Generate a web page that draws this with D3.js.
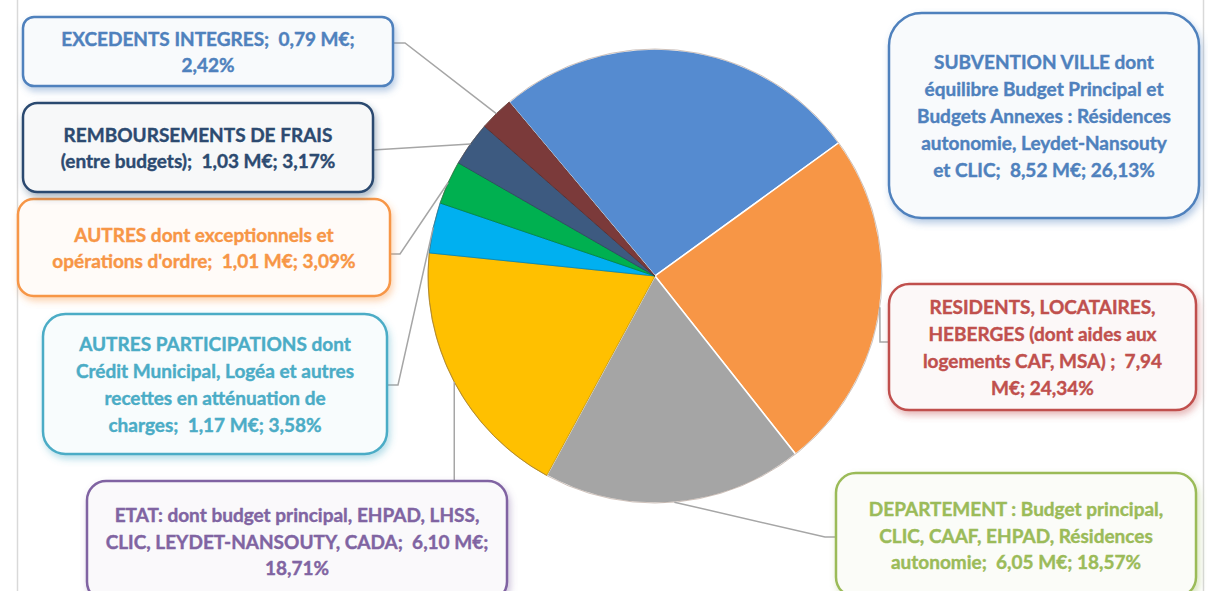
<!DOCTYPE html>
<html>
<head>
<meta charset="utf-8">
<script src="https://cdn.jsdelivr.net/npm/d3@7"></script>
<style>
  body { margin: 0; background: #fff; }
  svg { display: block; }
  text { font-family: Lato, "Open Sans", sans-serif; font-weight: 700; white-space: pre; }
</style>
</head>
<body>
<div id="chart"></div>
<script>
/* DATA */
const categories = ["Subvention Ville", "Résidents", "Département", "Etat",
  "Autres participations", "Autres", "Remboursements de frais", "Excédents intégrés"];
const valuesME = [8.52, 7.94, 6.05, 6.10, 1.17, 1.01, 1.03, 0.79];
const labelLines = [
  ["SUBVENTION VILLE dont", "équilibre Budget Principal et", "Budgets Annexes : Résidences", "autonomie, Leydet-Nansouty", "et CLIC;  8,52 M€; 26,13%"],
  ["RESIDENTS, LOCATAIRES,", "HEBERGES (dont aides aux", "logements CAF, MSA) ;  7,94", "M€; 24,34%"],
  ["DEPARTEMENT : Budget principal,", "CLIC, CAAF, EHPAD, Résidences", "autonomie;  6,05 M€; 18,57%"],
  ["ETAT: dont budget principal, EHPAD, LHSS,", "CLIC, LEYDET-NANSOUTY, CADA;  6,10 M€;", "18,71%"],
  ["AUTRES PARTICIPATIONS dont", "Crédit Municipal, Logéa et autres", "recettes en atténuation de", "charges;  1,17 M€; 3,58%"],
  ["AUTRES dont exceptionnels et", "opérations d'ordre;  1,01 M€; 3,09%"],
  ["REMBOURSEMENTS DE FRAIS", "(entre budgets);  1,03 M€; 3,17%"],
  ["EXCEDENTS INTEGRES;  0,79 M€;", "2,42%"]
];

/* STYLES */
const sliceColors = ["#558bd0", "#f79646", "#a5a5a5", "#ffc000", "#00b0f0", "#00b050", "#3d5a80", "#7b3a3a"];
const boxColors = ["#4f81bd", "#c0504d", "#9bbb59", "#8064a2", "#4bacc6", "#f79646", "#2c4a70", "#4f81bd"];

// label boxes: x, y, w, h, and leader path (box edge -> elbow); the arc point is added later
const boxes = [
  { x: 889, y: 13, w: 310, h: 205, leader: null },
  { x: 889, y: 284, w: 307, h: 126, leader: [[889, 342], [880, 342]] },
  { x: 836, y: 473, w: 360, h: 124, leader: [[836, 537], [825, 537]] },
  { x: 87, y: 481, w: 420, h: 120, leader: [] },
  { x: 43, y: 314, w: 344, h: 140, leader: [[387, 385], [398, 385]] },
  { x: 18, y: 199, w: 372, h: 97, leader: [[390, 254], [400, 254]] },
  { x: 23, y: 103, w: 350, h: 89, leader: [[373, 150]] },
  { x: 23, y: 17, w: 370, h: 69, leader: [[393, 43], [405, 43]] }
];

const width = 1208, height = 591;
const cx = 655, cy = 276, radius = 227;
const lineH = 26.8;

const svg = d3.select("#chart").append("svg")
  .attr("width", width)
  .attr("height", height);

// thin frame lines on each side
svg.append("line").attr("x1", 17.5).attr("x2", 17.5).attr("y1", 0).attr("y2", height)
  .attr("stroke", "#d9d9d9").attr("stroke-width", 1.5);
svg.append("line").attr("x1", 1203.5).attr("x2", 1203.5).attr("y1", 0).attr("y2", height)
  .attr("stroke", "#d9d9d9").attr("stroke-width", 1.5);

const defs = svg.append("defs");
boxColors.forEach((c, i) => {
  const f = defs.append("filter").attr("id", "sh" + i)
    .attr("x", "-10%").attr("y", "-10%").attr("width", "125%").attr("height", "140%");
  f.append("feDropShadow").attr("dx", 2).attr("dy", 4).attr("stdDeviation", 3.5)
    .attr("flood-color", c).attr("flood-opacity", 0.4);
});

// PIE
const pie = d3.pie().sort(null)
  .startAngle(-40 * Math.PI / 180)
  .endAngle(320 * Math.PI / 180);
const arcs = pie(valuesME);
const arc = d3.arc().innerRadius(0).outerRadius(radius);

const g = svg.append("g").attr("transform", `translate(${cx},${cy})`);
g.selectAll("path")
  .data(arcs)
  .join("path")
  .attr("d", arc)
  .attr("fill", (d, i) => sliceColors[i])
  .attr("stroke", (d, i) => i < 3 ? "#fff" : d3.color(sliceColors[i]).darker(0.8))
  .attr("stroke-width", (d, i) => i < 3 ? 1.5 : 0.8);

// outer rim
g.append("circle").attr("r", radius).attr("fill", "none")
  .attr("stroke", "#8a6a5a").attr("stroke-width", 0.7).attr("stroke-opacity", 0.6);

// LEADER LINES
const leaderLine = d3.line();
arcs.forEach((d, i) => {
  const b = boxes[i];
  if (!b.leader) return;
  const mid = (d.startAngle + d.endAngle) / 2;
  const p = [cx + radius * Math.sin(mid), cy - radius * Math.cos(mid)];
  const pts = b.leader.length ? b.leader.concat([p]) : [[p[0], b.y], p];
  svg.append("path")
    .attr("d", leaderLine(pts))
    .attr("fill", "none")
    .attr("stroke", "#a6a6a6")
    .attr("stroke-width", 1.5);
});

// LABEL BOXES
const labels = svg.selectAll("g.label")
  .data(boxes)
  .join("g")
  .attr("class", "label");

labels.append("rect")
  .attr("x", d => d.x).attr("y", d => d.y)
  .attr("width", d => d.w).attr("height", d => d.h)
  .attr("rx", d => Math.min(d.w, d.h) * 0.16)
  .attr("fill", (d, i) => d3.interpolateRgb("#ffffff", boxColors[i])(0.04))
  .attr("stroke", (d, i) => boxColors[i])
  .attr("stroke-width", 2.5)
  .attr("filter", (d, i) => `url(#sh${i})`);

labels.append("text")
  .attr("text-anchor", "middle")
  .attr("font-size", 19)
  .attr("fill", (d, i) => boxColors[i])
  .attr("stroke", (d, i) => boxColors[i])
  .attr("stroke-width", 0.4)
  .each(function (d, i) {
    const lines = labelLines[i];
    const midY = d.y + d.h / 2;
    const y0 = midY - (lines.length - 1) * lineH / 2;
    d3.select(this).selectAll("tspan")
      .data(lines)
      .join("tspan")
      .attr("x", d.x + d.w / 2)
      .attr("y", (t, k) => y0 + k * lineH)
      .attr("dominant-baseline", "central")
      .text(t => t);
  });
</script>
</body>
</html>
